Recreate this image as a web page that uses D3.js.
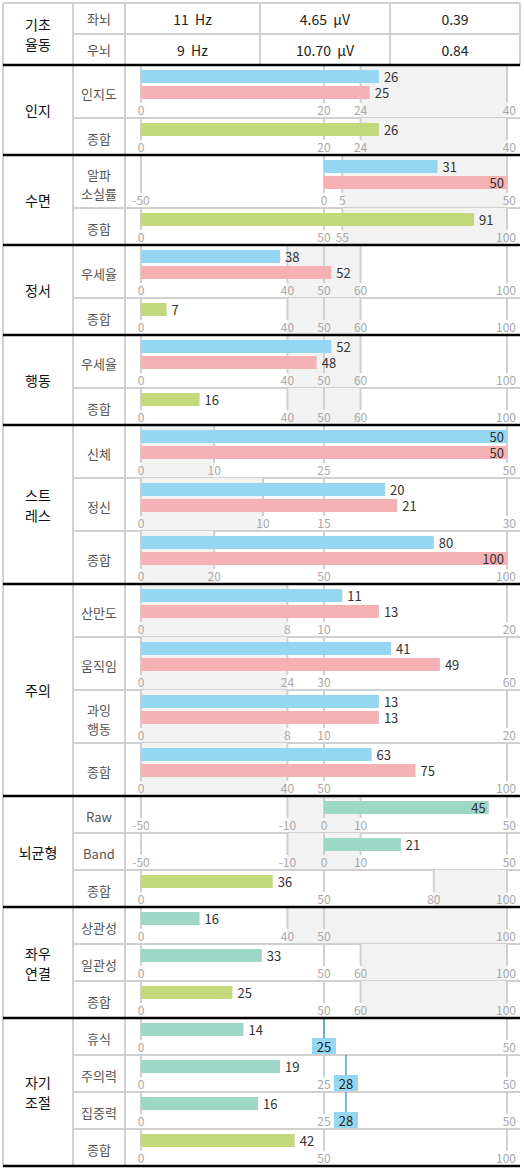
<!DOCTYPE html>
<html>
<head>
<meta charset="utf-8">
<script src="https://cdn.jsdelivr.net/npm/d3@7"></script>
<style>
  body { margin: 0; background: #fff; }
  text { font-family: "Noto Sans CJK KR", "Noto Sans", sans-serif; white-space: pre; }
</style>
</head>
<body>
<svg id="chart" width="524" height="1168"></svg>
<script>
// header table
const headLabel = ["기초", "율동"];
const headSides = ["좌뇌", "우뇌"];
const headFreq = ["11\u00a0\u00a0Hz", "9\u00a0\u00a0Hz"];
const headAmp = ["4.65\u00a0\u00a0μV", "10.70\u00a0\u00a0μV"];
const headRatio = ["0.39", "0.84"];

// groups and rows
const groupNames = [["인지"], ["수면"], ["정서"], ["행동"], ["스트", "레스"], ["주의"], ["뇌균형"], ["좌우", "연결"], ["자기", "조절"]];
const rowGroup = [0, 0, 1, 1, 2, 2, 3, 3, 4, 4, 4, 5, 5, 5, 5, 6, 6, 6, 7, 7, 7, 8, 8, 8, 8];
const rowLabels = [["인지도"], ["종합"], ["알파", "소실률"], ["종합"], ["우세율"], ["종합"], ["우세율"], ["종합"],
  ["신체"], ["정신"], ["종합"], ["산만도"], ["움직임"], ["과잉", "행동"], ["종합"],
  ["Raw"], ["Band"], ["종합"], ["상관성"], ["일관성"], ["종합"], ["휴식"], ["주의력"], ["집중력"], ["종합"]];
const rowDomain = [[0, 40], [0, 40], [-50, 50], [0, 100], [0, 100], [0, 100], [0, 100], [0, 100],
  [0, 50], [0, 30], [0, 100], [0, 20], [0, 60], [0, 20], [0, 100],
  [-50, 50], [-50, 50], [0, 100], [0, 100], [0, 100], [0, 100], [0, 50], [0, 50], [0, 50], [0, 100]];
const rowTicks = [[0, 20, 24, 40], [0, 20, 24, 40], [-50, 0, 5, 50], [0, 50, 55, 100],
  [0, 40, 50, 60, 100], [0, 40, 50, 60, 100], [0, 40, 50, 60, 100], [0, 40, 50, 60, 100],
  [0, 10, 25, 50], [0, 10, 15, 30], [0, 20, 50, 100],
  [0, 8, 10, 20], [0, 24, 30, 60], [0, 8, 10, 20], [0, 40, 50, 100],
  [-50, -10, 0, 10, 50], [-50, -10, 0, 10, 50], [0, 50, 80, 100],
  [0, 40, 50, 100], [0, 50, 60, 100], [0, 50, 60, 100],
  [0, 25, 50], [0, 25, 50], [0, 25, 50], [0, 50, 100]];
const rowShade = [[24, 40], [24, 40], [5, 50], [55, 100], [40, 60], [40, 60], [40, 60], [40, 60],
  [0, 10], [0, 10], [0, 20], [0, 8], [0, 24], [0, 8], [0, 40],
  [-10, 10], [-10, 10], [80, 100], [40, 100], [60, 100], [60, 100], null, null, null, null];
const rowValues = [[26, 25], [26], [31, 50], [91], [38, 52], [7], [52, 48], [16],
  [50, 50], [20, 21], [80, 100], [11, 13], [41, 49], [13, 13], [63, 75],
  [45], [21], [36], [16], [33], [25], [14], [19], [16], [42]];
const rowSeries = ["bp", "g", "bp", "g", "bp", "g", "bp", "g", "bp", "bp", "bp", "bp", "bp", "bp", "bp",
  "t", "t", "g", "t", "t", "g", "t", "t", "t", "g"];
const rowMarker = [null, null, null, null, null, null, null, null, null, null, null, null, null, null, null,
  null, null, null, null, null, null, 25, 28, 28, null];

const colors = { b: "#93d7f3", p: "#f6b1b5", g: "#c2d87b", t: "#9dd7c5" };
const gridCol = "#d0d0d0";

const svg = d3.select("#chart");
const xL = 3, xC1 = 73, xC2 = 125, xR = 520;
const plotL = 141, plotR = 507;

function multiText(g, x, yMid, lines, size, color) {
  const lh = size + 6;
  lines.forEach((s, i) => {
    g.append("text").attr("x", x).attr("y", yMid + (i - (lines.length - 1) / 2) * lh)
      .attr("text-anchor", "middle").attr("dominant-baseline", "central")
      .attr("font-size", size).attr("fill", color).text(s);
  });
}

// header
const hTop = 3, hRow = 31;
const hCols = [xC2, 260, 390, xR];
svg.append("line").attr("x1", xL).attr("x2", xR).attr("y1", hTop).attr("y2", hTop).attr("stroke", gridCol).attr("stroke-width", 2);
for (let r = 0; r < 2; r++) {
  const y = hTop + r * hRow;
  svg.append("line").attr("x1", xC1).attr("x2", xR).attr("y1", y + hRow).attr("y2", y + hRow).attr("stroke", gridCol).attr("stroke-width", 2);
  multiText(svg, (xC1 + xC2) / 2, y + hRow / 2, [headSides[r]], 13, "#555");
  [headFreq[r], headAmp[r], headRatio[r]].forEach((s, i) => {
    multiText(svg, (hCols[i] + hCols[i + 1]) / 2, y + hRow / 2, [s], 14, "#222");
  });
}
hCols.forEach(x => svg.append("line").attr("x1", x).attr("x2", x).attr("y1", hTop).attr("y2", hTop + 2 * hRow).attr("stroke", gridCol).attr("stroke-width", 2));
multiText(svg, (xL + xC1) / 2, hTop + hRow, headLabel, 14, "#111");

// body rows
let y = hTop + 2 * hRow;
const groupTop = {}, groupBot = {};
rowLabels.forEach((lab, i) => {
  const vals = rowValues[i];
  const h = vals.length === 2 ? 53 : 37;
  const g = svg.append("g").attr("transform", `translate(0,${y})`);
  const x = d3.scaleLinear().domain(rowDomain[i]).range([plotL, plotR]);

  if (rowShade[i]) {
    g.append("rect").attr("x", x(rowShade[i][0])).attr("y", 0)
      .attr("width", x(rowShade[i][1]) - x(rowShade[i][0])).attr("height", h).attr("fill", "#f2f2f2");
  }
  g.selectAll(".grid").data(rowTicks[i]).enter().append("line")
    .attr("x1", d => x(d)).attr("x2", d => x(d)).attr("y1", 0).attr("y2", h - 15)
    .attr("stroke", gridCol).attr("stroke-width", 2);
  g.selectAll(".tick").data(rowTicks[i]).enter().append("text")
    .attr("x", (d, j) => j === rowTicks[i].length - 1 ? x(d) + 9 : x(d))
    .attr("y", h - 3)
    .attr("text-anchor", (d, j) => j === rowTicks[i].length - 1 ? "end" : "middle")
    .attr("font-size", 12).attr("fill", "#a8a8a8").text(d => d);

  const base = Math.max(rowDomain[i][0], 0);
  const cols = rowSeries[i] === "bp" ? ["b", "p"] : [rowSeries[i]];
  vals.forEach((v, k) => {
    const by = 5 + k * 16;
    const x0 = x(base), x1 = x(v);
    g.append("rect").attr("x", x0).attr("y", by).attr("width", x1 - x0).attr("height", 13).attr("fill", colors[cols[k]]);
    const inside = x1 + 5 + String(v).length * 8 > plotR + 2;
    g.append("text").attr("x", inside ? x1 - 3 : x1 + 5).attr("y", by + 12)
      .attr("text-anchor", inside ? "end" : "start")
      .attr("font-size", 13).attr("fill", "#333").text(v);
  });

  if (rowMarker[i] != null) {
    const mx = x(rowMarker[i]);
    g.append("line").attr("x1", mx).attr("x2", mx).attr("y1", 0).attr("y2", h - 16).attr("stroke", "#4a9ad6").attr("stroke-width", 1.5);
    g.append("rect").attr("x", mx - 12).attr("y", h - 17).attr("width", 24).attr("height", 17).attr("fill", "#93d7f3");
    g.append("text").attr("x", mx).attr("y", h - 3.5).attr("text-anchor", "middle").attr("font-size", 13).attr("fill", "#222").text(rowMarker[i]);
  }

  multiText(g, (xC1 + xC2) / 2, h / 2 + 2, lab, 13, "#555");

  const gi = rowGroup[i];
  if (groupTop[gi] == null) groupTop[gi] = y;
  groupBot[gi] = y + h;
  y += h;
  if (i < rowLabels.length - 1 && rowGroup[i + 1] === gi) {
    svg.append("line").attr("x1", xC1).attr("x2", xR).attr("y1", y).attr("y2", y).attr("stroke", gridCol).attr("stroke-width", 2);
  }
});

groupNames.forEach((names, gi) => {
  multiText(svg, (xL + xC1) / 2, (groupTop[gi] + groupBot[gi]) / 2, names, 14, "#111");
});

// vertical column borders
[xL, xC1, xC2].forEach(xv => svg.append("line").attr("x1", xv).attr("x2", xv).attr("y1", hTop).attr("y2", y).attr("stroke", gridCol).attr("stroke-width", 2));

// thick group separators
const seps = [hTop + 2 * hRow].concat(groupNames.map((n, gi) => groupBot[gi]));
seps.forEach(sy => svg.append("line").attr("x1", xL).attr("x2", xR).attr("y1", sy).attr("y2", sy).attr("stroke", "#000").attr("stroke-width", 2.5));
</script>
</body>
</html>
